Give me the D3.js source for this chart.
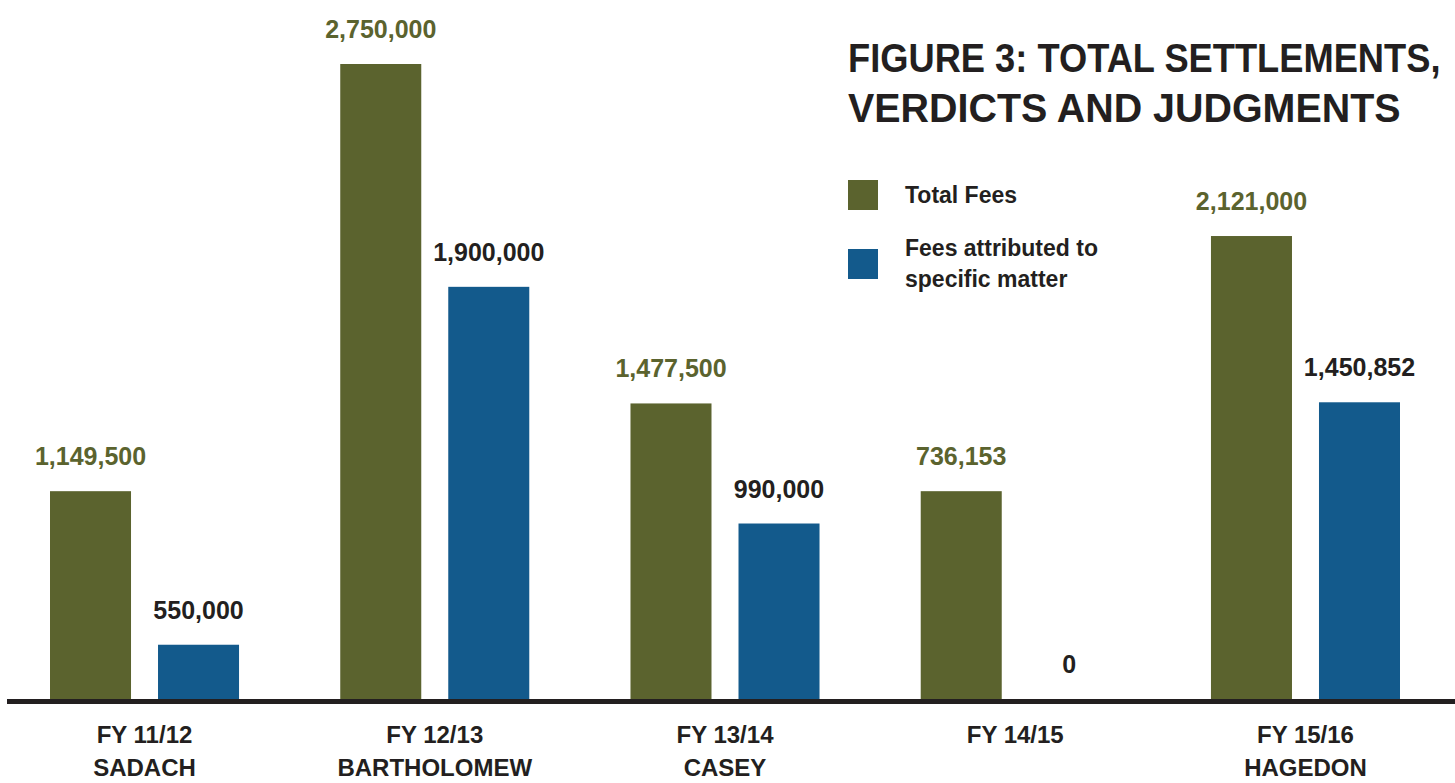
<!DOCTYPE html>
<html>
<head>
<meta charset="utf-8">
<script src="https://cdn.jsdelivr.net/npm/d3@7"></script>
<style>
  body { margin: 0; background: #fff; }
  svg { display: block; font-family: "Liberation Sans", Arial, sans-serif; font-weight: bold; }
</style>
</head>
<body>
<div id="chart"></div>
<script>
// categories and series
const years = ["FY 11/12", "FY 12/13", "FY 13/14", "FY 14/15", "FY 15/16"];
const matters = ["SADACH", "BARTHOLOMEW", "CASEY", "", "HAGEDON"];
const seriesNames = ["Total Fees", "Fees attributed to specific matter"];

// values printed above the bars
const totalFees = [1149500, 2750000, 1477500, 736153, 2121000];
const specificFees = [550000, 1900000, 990000, 0, 1450852];

// bar lengths as drawn in the picture (the original is not to scale)
const totalFeesDrawn = [900000, 2750000, 1280000, 900000, 2005000];
const specificFeesDrawn = [235000, 1785000, 760000, 0, 1285000];

const W = 1455, H = 783;
const green = "#5b632e", blue = "#135a8c", ink = "#231f20";

const svg = d3.select("#chart").append("svg")
  .attr("width", W)
  .attr("height", H);

const baseline = 699;

// group and sub-group scales
const x0 = d3.scaleBand()
  .domain(years)
  .range([50, 1400])
  .paddingInner(0.3487)
  .paddingOuter(0);

const x1 = d3.scaleBand()
  .domain(["total", "specific"])
  .range([0, x0.bandwidth()])
  .paddingInner(0.25);

const y = d3.scaleLinear()
  .domain([0, 2750000])
  .range([baseline, 64]);

const fmt = d3.format(",");

const rows = years.map((yr, i) => ({
  year: yr,
  matter: matters[i],
  bars: [
    { key: "total", label: totalFees[i], value: totalFeesDrawn[i], color: green, text: green },
    { key: "specific", label: specificFees[i], value: specificFeesDrawn[i], color: blue, text: ink }
  ]
}));

const groups = svg.selectAll(".group")
  .data(rows)
  .enter().append("g")
  .attr("class", "group")
  .attr("transform", d => "translate(" + x0(d.year) + ",0)");

groups.selectAll("rect")
  .data(d => d.bars)
  .enter().append("rect")
  .attr("x", d => x1(d.key))
  .attr("y", d => y(d.value))
  .attr("width", x1.bandwidth())
  .attr("height", d => baseline - y(d.value))
  .attr("fill", d => d.color);

//value labels above each bar
groups.selectAll(".val")
  .data(d => d.bars)
  .enter().append("text")
  .attr("class", "val")
  .attr("x", d => x1(d.key) + x1.bandwidth() / 2)
  .attr("y", d => y(d.value) - 26)
  .attr("text-anchor", "middle")
  .style("font-size", "25px")
  .attr("fill", d => d.text)
  .text(d => fmt(d.label));

// baseline
svg.append("line")
  .attr("x1", 7)
  .attr("x2", W)
  .attr("y1", baseline + 2.5)
  .attr("y2", baseline + 2.5)
  .attr("stroke", ink)
  .attr("stroke-width", 5);

// category labels (two lines)
const cat = groups.append("text")
  .attr("text-anchor", "middle")
  .style("font-size", "24px")
  .attr("fill", ink);
cat.append("tspan")
  .attr("x", x0.bandwidth() / 2)
  .attr("y", 743)
  .text(d => d.year);
cat.append("tspan")
  .attr("x", x0.bandwidth() / 2)
  .attr("y", 776)
  .text(d => d.matter);

// title: narrower font, stretched a bit vertically to get the tall caps
const title = svg.append("g").attr("fill", ink).style("font-size", "36px");
title.append("text")
  .attr("transform", "translate(848,72) scale(1.008,1.13)")
  .text("FIGURE 3: TOTAL SETTLEMENTS,");
title.append("text")
  .attr("transform", "translate(848,122) scale(1.095,1.13)")
  .text("VERDICTS AND JUDGMENTS");

// legend
const legend = svg.append("g").attr("transform", "translate(848,180)");
const legendRows = [
  { color: green, lines: ["Total Fees"] },
  { color: blue, lines: ["Fees attributed to", "specific matter"] }
];
const li = legend.selectAll(".li")
  .data(legendRows)
  .enter().append("g")
  .attr("transform", (d, i) => "translate(0," + (i * 69) + ")");
li.append("rect")
  .attr("width", 30)
  .attr("height", 30)
  .attr("fill", d => d.color);
li.append("text")
  .attr("fill", ink)
  .style("font-size", "23px")
  .selectAll("tspan")
  .data(d => d.lines)
  .enter().append("tspan")
  .attr("x", 57)
  .attr("y", (d, i, n) => n.length > 1 ? 7 + i * 31 : 23)
  .text(d => d);
</script>
</body>
</html>
